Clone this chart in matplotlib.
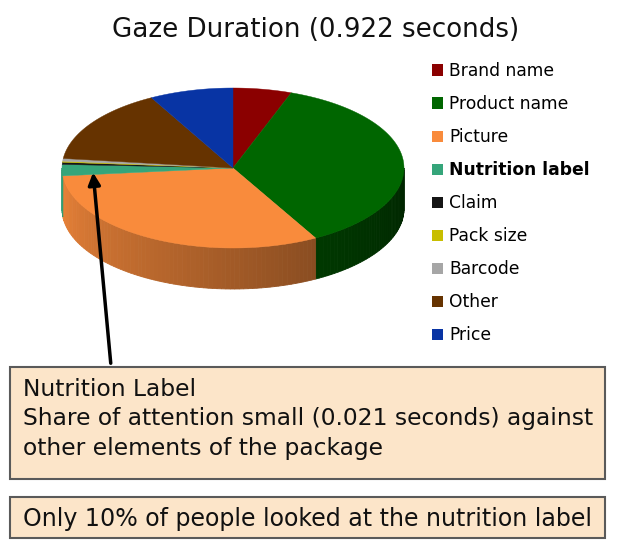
import numpy as np
import matplotlib
matplotlib.use('Agg')
import matplotlib.pyplot as plt
from matplotlib.patches import Polygon, Rectangle, Patch
from matplotlib.colors import to_rgb

# Gaze duration per package element (seconds), clockwise from 12 o'clock
labels = ['Brand name', 'Product name', 'Picture', 'Nutrition label', 'Claim',
          'Pack size', 'Barcode', 'Other', 'Price']
seconds = [0.051, 0.336, 0.290, 0.021, 0.004, 0.002, 0.005, 0.140, 0.073]
colors = ['#8B0000', '#006600', '#F98B3C', '#35A57A', '#151515',
          '#C8BE00', '#A6A6A6', '#663300', '#0834A4']

title = 'Gaze Duration (0.922 seconds)'
note_lines = ['Nutrition Label',
              'Share of attention small (0.021 seconds) against',
              'other elements of the package']
footer = 'Only 10% of people looked at the nutrition label'

# pie geometry (pixel space)
CX, CY, RX, RY, DEPTH = 233, 168, 171, 80, 41


def rim(theta, r=1.0):
    # theta in degrees, clockwise from top
    t = np.radians(theta)
    return CX + r * RX * np.sin(t), CY - r * RY * np.cos(t)


fig = plt.figure(figsize=(6.3, 5.5), dpi=100)
ax = fig.add_axes([0, 0, 1, 1])
ax.set_xlim(0, 630)
ax.set_ylim(550, 0)
ax.axis('off')

total = sum(seconds)
edges = np.concatenate([[0], np.cumsum(seconds) / total * 360])

# side wall (front half only), shaded strips
for i, (t0, t1) in enumerate(zip(edges[:-1], edges[1:])):
    lo, hi = max(t0, 90), min(t1, 270)
    if hi <= lo:
        continue
    steps = np.linspace(lo, hi, max(2, int((hi - lo) / 1.5) + 2))
    base = np.array(to_rgb(colors[i]))
    for s0, s1 in zip(steps[:-1], steps[1:]):
        shade = 0.35 + 0.6 * ((s0 + s1) / 2 - 90) / 180
        c = np.clip(base * shade, 0, 1)
        x0, y0 = rim(s0)
        x1, y1 = rim(s1)
        ax.add_patch(Polygon([(x0, y0), (x1, y1), (x1, y1 + DEPTH), (x0, y0 + DEPTH)],
                             closed=True, fc=c, ec=c, lw=0.6))

# top face
for i, (t0, t1) in enumerate(zip(edges[:-1], edges[1:])):
    th = np.linspace(t0, t1, max(3, int(t1 - t0) + 2))
    x, y = rim(th)
    ax.add_patch(Polygon(np.column_stack([np.r_[CX, x], np.r_[CY, y]]),
                         closed=True, fc=colors[i], ec=colors[i], lw=0.3))

ax.text(316, 30, title, ha='center', va='center', fontsize=18.8, color='#111111')

# legend
handles = [Patch(fc=c, ec='none', label=l) for c, l in zip(colors, labels)]
leg = fig.legend(handles=handles, loc='upper left', bbox_to_anchor=(0.686, 0.887),
                 frameon=False, fontsize=12.3, handlelength=0.65, handleheight=0.65,
                 handletextpad=0.35, labelspacing=0.88, borderpad=0, borderaxespad=0)
for t in leg.get_texts():
    if t.get_text() == 'Nutrition label':
        t.set_fontweight('bold')

# note boxes
ax.add_patch(Rectangle((10, 367), 595, 112, fc='#FCE5C9', ec='#5A5A5A', lw=1.5))
for k, line in enumerate(note_lines):
    ax.text(23, 389 + 30 * k, line, ha='left', va='center', fontsize=16.8, color='#111111')
ax.add_patch(Rectangle((10, 497), 595, 41, fc='#FCE5C9', ec='#5A5A5A', lw=1.5))
ax.text(23, 519, footer, ha='left', va='center', fontsize=17.1, color='#111111')

# arrow to the nutrition slice
nut = labels.index('Nutrition label')
tip = rim((edges[nut] + edges[nut + 1]) / 2, 0.82)
ax.annotate('', xy=tip, xytext=(111, 366),
            arrowprops=dict(arrowstyle='-|>', color='black', lw=2.5, mutation_scale=18))

fig.savefig('out.png', dpi=100)
